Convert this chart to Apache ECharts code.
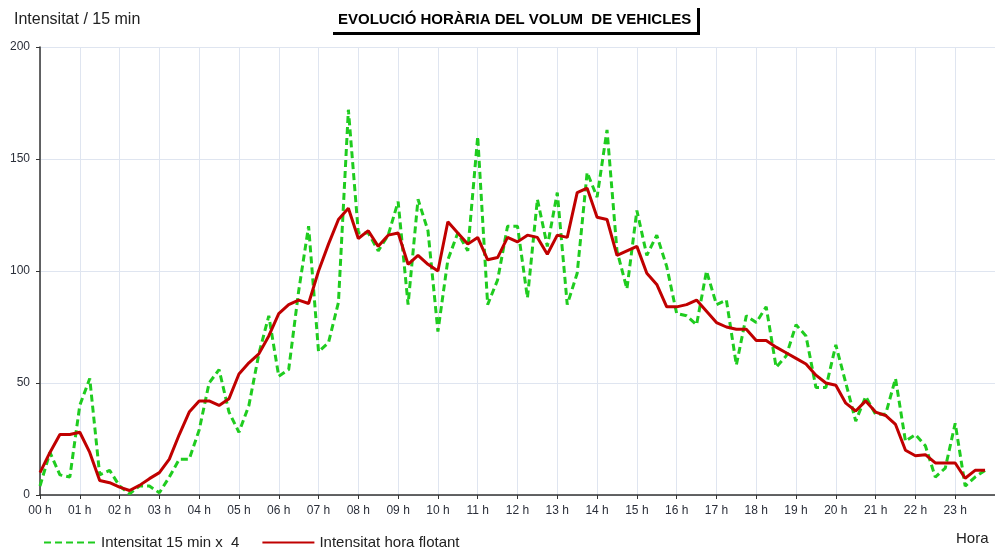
<!DOCTYPE html>
<html>
<head>
<meta charset="utf-8">
<script src="https://cdn.jsdelivr.net/npm/echarts@6/dist/echarts.min.js"></script>
<style>html,body{margin:0;padding:0;background:#fff}#c{width:995px;height:551px}</style>
</head>
<body>
<div id="c"></div>
<script>
// Quarter-hour time points (hours), 00:00 ... 23:45
const quarterHours = Array.from({length: 96}, (_, i) => i / 4);
// Hour tick labels
const hourLabels = ["00 h","01 h","02 h","03 h","04 h","05 h","06 h","07 h","08 h","09 h","10 h","11 h",
  "12 h","13 h","14 h","15 h","16 h","17 h","18 h","19 h","20 h","21 h","22 h","23 h"];
const yTicks = [0, 50, 100, 150, 200];

// Intensitat 15 min x 4
const green = [
  4, 19, 9, 8,      40, 52, 9, 11,     4, 0.5, 4, 4,      1, 8, 16, 16,
  29, 50, 56, 37,   28, 40, 63, 80,    53, 56, 91, 120,   64, 68, 86, 172,
  117, 117, 109, 116, 131, 85, 132, 118, 73, 105, 117, 109, 160, 85, 96, 120,
  120, 88, 132, 111, 135, 85, 99, 144, 133, 163, 109, 92,  127, 107, 116, 102,
  81, 80, 76, 100,  85, 87, 58, 80,    77, 84, 57, 62,    76, 71, 48, 48,
  67, 50, 33, 44,   36, 36, 52, 24,    27, 22, 8, 12,     32, 4, 8, 11
];
// Intensitat hora flotant
const red = [
  10, 19, 27, 27,   28, 19, 6.5, 5.5,  3.5, 2, 4.3, 7.3,  10, 16, 27, 37,
  42, 42, 40, 43,   54, 59, 63, 71,    81, 85, 87, 85.5,  100, 112, 123, 128,
  114.5, 118, 111, 116, 117, 103, 107, 103, 100, 122, 117, 112, 115, 105, 106, 115,
  113, 116, 115, 107.5, 116, 115, 135, 137, 124, 123, 107, 109, 111, 99, 94, 84,
  84, 85, 87, 82,   77, 75, 74, 74,    69, 69, 66, 63.5,  61, 58.5, 53.5, 50,
  49, 41, 37.5, 42, 37, 35.5, 31.5, 20, 17.5, 18, 14.3, 14.3, 14.3, 7.5, 11, 11
];

const FONT = '"Liberation Sans", Arial, sans-serif';
const chart = echarts.init(document.getElementById('c'), null, {renderer: 'canvas'});
chart.setOption({
  animation: false,
  backgroundColor: '#ffffff',
  grid: {left: 40, right: 0, top: 47, bottom: 56},
  graphic: [
    {type: 'rect', shape: {x: 330, y: 5, width: 367, height: 27},
     style: {fill: '#fff', shadowColor: '#000', shadowOffsetX: 3, shadowOffsetY: 3, shadowBlur: 0}, z: 10},
    {type: 'text', left: 338, top: 12, z: 11,
     style: {text: 'EVOLUCIÓ HORÀRIA DEL VOLUM  DE VEHICLES', font: 'bold 15px ' + FONT, fill: '#000'}},
    {type: 'text', left: 14, top: 12, z: 11,
     style: {text: 'Intensitat / 15 min', font: '16px ' + FONT, fill: '#222'}},
    {type: 'text', left: 956, top: 531, z: 11,
     style: {text: 'Hora', font: '15px ' + FONT, fill: '#222'}}
  ],
  legend: {
    left: 43, top: 535, padding: 0, itemWidth: 52, itemHeight: 14, itemGap: 22,
    itemStyle: {opacity: 0},
    textStyle: {fontFamily: FONT, fontSize: 15, color: '#222'},
    data: ['Intensitat 15 min x  4', 'Intensitat hora flotant']
  },
  xAxis: {
    type: 'value', min: 0, max: 24, interval: 1,
    axisLine: {show: true, lineStyle: {color: '#333', width: 1.5}},
    axisTick: {show: true, length: 4, lineStyle: {color: '#333'}},
    axisLabel: {
      margin: 10, fontFamily: FONT, fontSize: 12, color: '#2b2f3a', showMaxLabel: false,
      formatter: v => (v < 24 ? hourLabels[v] : '')
    },
    splitLine: {show: true, lineStyle: {color: '#dfe5f0', width: 1}}
  },
  yAxis: {
    type: 'value', min: yTicks[0], max: yTicks[yTicks.length - 1], interval: 50,
    axisLine: {show: true, lineStyle: {color: '#333', width: 1.5}},
    axisTick: {show: true, length: 4, lineStyle: {color: '#333'}},
    axisLabel: {margin: 10, fontFamily: FONT, fontSize: 12, color: '#2b2f3a'},
    splitLine: {show: true, lineStyle: {color: '#dfe5f0', width: 1}}
  },
  series: [
    {
      name: 'Intensitat 15 min x  4', type: 'line', symbol: 'none', z: 3,
      data: quarterHours.map((t, i) => [t, green[i]]),
      itemStyle: {color: '#1fcc1f'},
      lineStyle: {color: '#1fcc1f', width: 3, type: [7, 4]}
    },
    {
      name: 'Intensitat hora flotant', type: 'line', symbol: 'none', z: 4,
      data: quarterHours.map((t, i) => [t, red[i]]),
      itemStyle: {color: '#c00000'},
      lineStyle: {color: '#c00000', width: 3}
    }
  ]
});
</script>
</body>
</html>
